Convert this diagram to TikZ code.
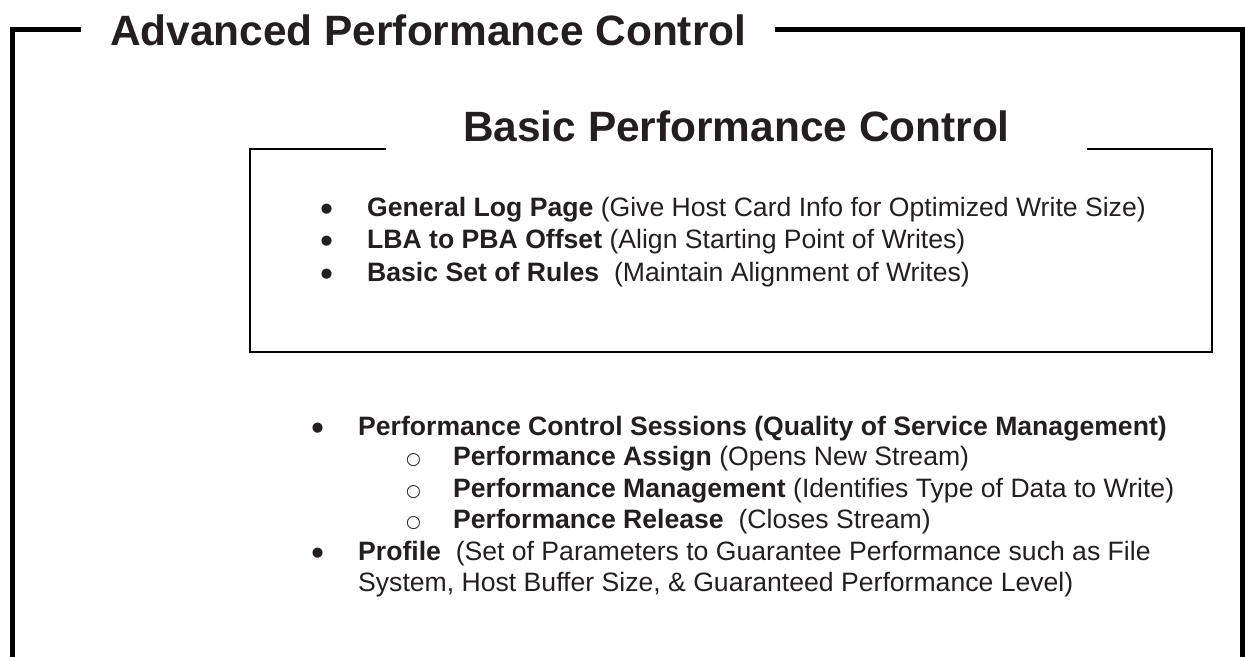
\documentclass[tikz,border=0pt]{standalone}
\usepackage{fontspec}
\setmainfont{Liberation Sans}
\newfontfamily\symfont{DejaVu Sans}
\usepackage{graphicx}
\usepackage{xcolor}
\usepackage{tikz}
\usetikzlibrary{positioning}
\definecolor{Ink}{HTML}{231F20}
\newcommand{\titlesize}{\fontsize{42.4pt}{50pt}\selectfont\bfseries}
\newcommand{\bodysize}{\fontsize{26.6pt}{31pt}\selectfont}
\newcommand{\lvlone}{\makebox[47pt][l]{\smash{\raisebox{-5pt}{\scalebox{1.4}{•}}}}}
\newcommand{\lvltwo}{\makebox[47pt][l]{\smash{\raisebox{1pt}{\symfont\fontsize{17pt}{17pt}\selectfont ○}}}}

\begin{document}
\begin{tikzpicture}[x=1pt, y=-1pt,
    frameline/.style={line width=5pt},
    boxline/.style={line width=2pt},
    boxtitle/.style={anchor=base west, fill=white, text=Ink, font=\titlesize, inner ysep=12pt},
    entry/.style={anchor=base west, inner sep=0pt, text=Ink, font=\bodysize}]
  \clip (0,0) rectangle (1245,656);

  % outer frame, open at the bottom
  \draw[frameline] (12,700) -- (12,29.5) -- (1242.5,29.5) -- (1242.5,700);
  \node[boxtitle, inner xsep=29pt] (adv) at (81,45) {Advanced Performance Control};

  % inner frame
  \draw[boxline] (250,149) rectangle (1212,352);
  \node[boxtitle, inner xsep=77pt] (basic) at (386,141) {Basic Performance Control};

  \node[entry] (gen) at (320,216) {\lvlone\textbf{General Log Page} (Give Host Card Info for Optimized Write Size)};
  \node[entry] (lba) at (320,248) {\lvlone\textbf{LBA to PBA Offset} (Align Starting Point of Writes)};
  \node[entry] (rules) at (320,281) {\lvlone\textbf{Basic Set of Rules}~ (Maintain Alignment of Writes)};

  \node[entry] (pcs) at (311,435) {\lvlone\textbf{Performance Control Sessions (Quality of Service Management)}};
  \node[entry] (assign) at (406,465) {\lvltwo\textbf{Performance Assign} (Opens New Stream)};
  \node[entry] (manage) at (406,497) {\lvltwo\textbf{Performance Management} (Identifies Type of Data to Write)};
  \node[entry] (release) at (406,528) {\lvltwo\textbf{Performance Release}~ (Closes Stream)};
  \node[entry] (profile) at (311,560) {\lvlone\textbf{Profile}~ (Set of Parameters to Guarantee Performance such as File};
  \node[entry] (profile2) at (358,591) {System, Host Buffer Size, \& Guaranteed Performance Level)};
\end{tikzpicture}
\end{document}
